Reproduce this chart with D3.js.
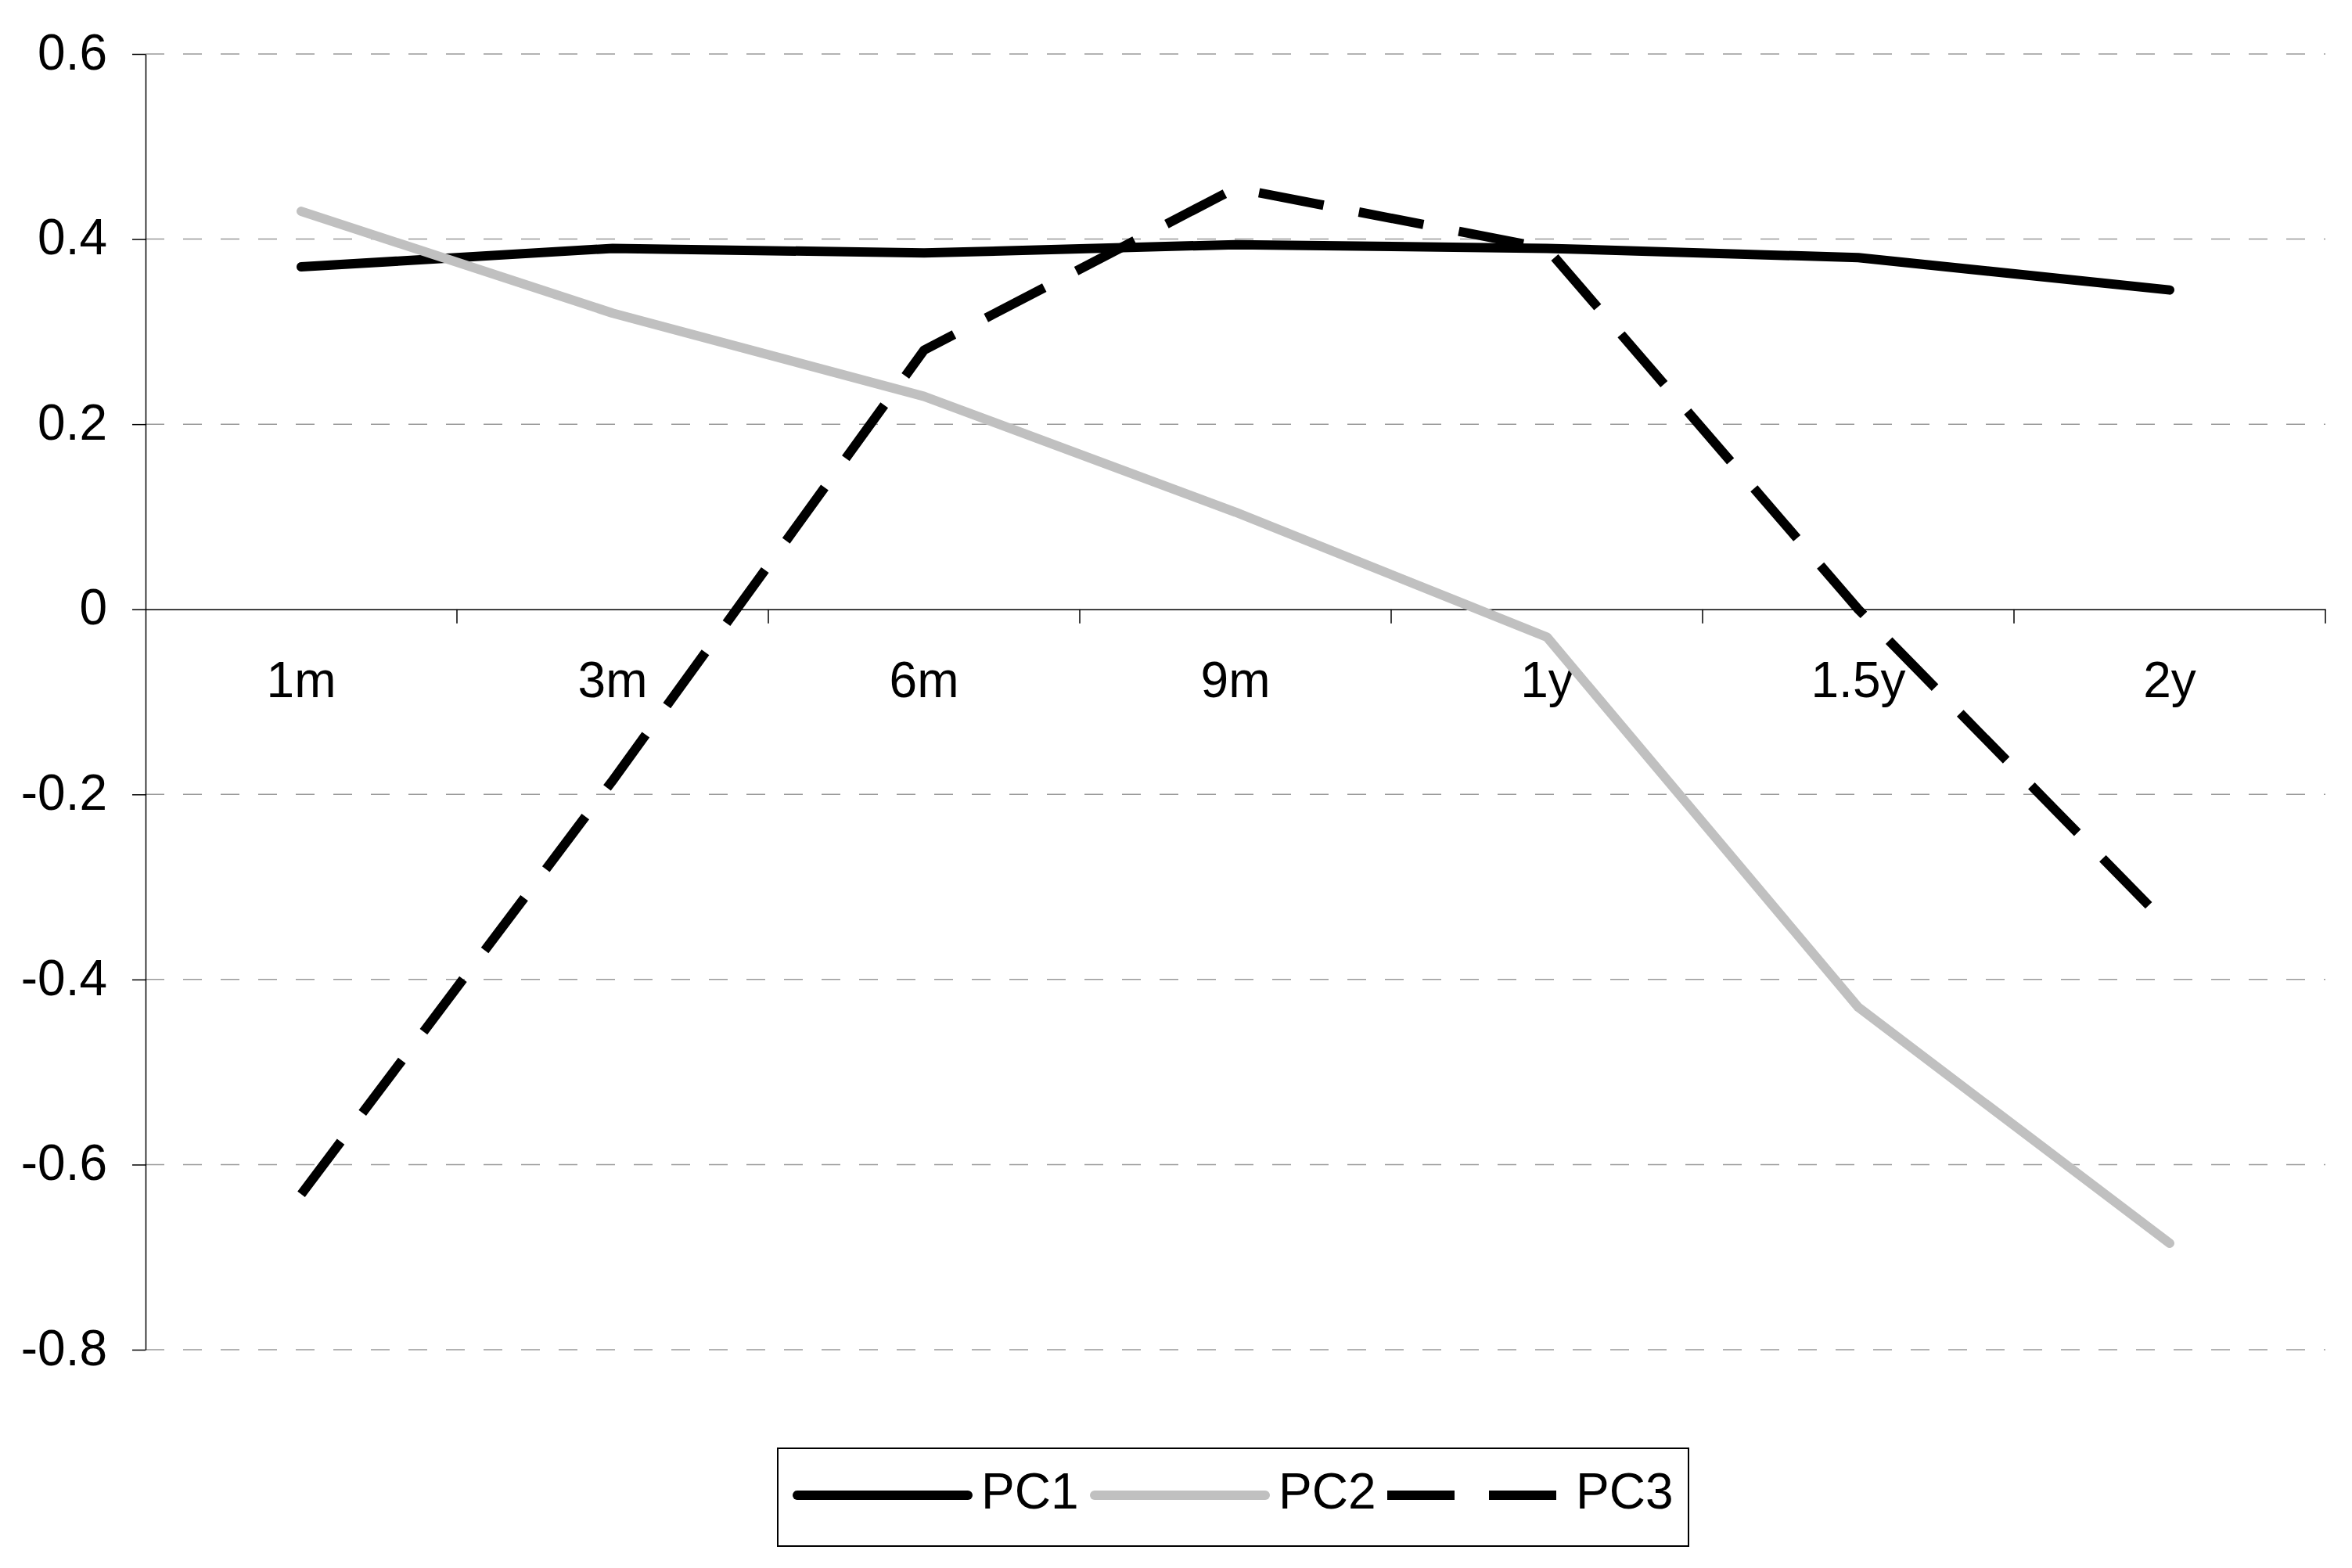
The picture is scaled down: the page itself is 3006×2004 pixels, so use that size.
<!DOCTYPE html>
<html>
<head>
<meta charset="utf-8">
<script src="https://cdn.jsdelivr.net/npm/d3@7"></script>
<style>
  body { margin: 0; background: #fff; }
  svg text { font-family: "Liberation Sans", Arial, sans-serif; fill: #000; }
</style>
</head>
<body>
<script>
// maturities on the x axis
const categories = ["1m", "3m", "6m", "9m", "1y", "1.5y", "2y"];

// loadings of the first three principal components
const pc1 = [0.37, 0.39, 0.385, 0.394, 0.39, 0.38, 0.345];
const pc2 = [0.43, 0.32, 0.23, 0.105, -0.03, -0.43, -0.685];
const pc3 = [-0.632, -0.185, 0.28, 0.455, 0.39, 0.0, -0.343];

const seriesNames = ["PC1", "PC2", "PC3"];
const yTicks = [0.6, 0.4, 0.2, 0, -0.2, -0.4, -0.6, -0.8];
const yTickLabels = ["0.6", "0.4", "0.2", "0", "-0.2", "-0.4", "-0.6", "-0.8"];

const W = 3006, H = 2004;
const plot = { left: 186, right: 2972, top: 69, bottom: 1725 };

const series = [
  { name: seriesNames[0], values: pc1, color: "#000", dash: null, cap: "round" },
  { name: seriesNames[1], values: pc2, color: "#c0c0c0", dash: null, cap: "round" },
  { name: seriesNames[2], values: pc3, color: "#000", dash: "84,46", cap: "butt" }
];

const svg = d3.select("body").append("svg")
  .attr("width", W)
  .attr("height", H);

svg.append("rect").attr("width", W).attr("height", H).attr("fill", "#fff");

const x = d3.scaleBand()
  .domain(categories)
  .range([plot.left, plot.right])
  .padding(0);

const y = d3.scaleLinear()
  .domain([-0.8, 0.6])
  .range([plot.bottom, plot.top]);

// dashed gridlines (zero is the category axis itself)
svg.append("g")
  .selectAll("line")
  .data(yTicks.filter(d => d !== 0))
  .join("line")
    .attr("x1", plot.left)
    .attr("x2", plot.right)
    .attr("y1", d => y(d))
    .attr("y2", d => y(d))
    .attr("stroke", "#999")
    .attr("stroke-width", 1.5)
    .attr("stroke-dasharray", "24,24");

// value axis
const yAxis = svg.append("g")
  .attr("transform", `translate(${plot.left},0)`)
  .call(d3.axisLeft(y)
    .tickValues(yTicks)
    .tickFormat((d, i) => yTickLabels[i])
    .tickSize(17)
    .tickSizeOuter(0)
    .tickPadding(32));

yAxis.attr("font-size", 64).attr("font-family", null);
yAxis.selectAll("path, line").attr("stroke", "#000").attr("stroke-width", 1.5);
yAxis.selectAll("text").attr("dy", "0.3em");

// category axis sits on zero
const xAxis = svg.append("g")
  .attr("transform", `translate(0,${y(0)})`)
  .call(d3.axisBottom(x)
    .tickSize(0)
    .tickSizeOuter(0)
    .tickPadding(67));

xAxis.attr("font-size", 64).attr("font-family", null);
xAxis.select(".domain").attr("stroke", "#000").attr("stroke-width", 1.5);

// tick marks between categories
xAxis.selectAll(".boundary")
  .data(categories)
  .join("line")
    .attr("class", "boundary")
    .attr("x1", d => x(d) + x.bandwidth())
    .attr("x2", d => x(d) + x.bandwidth())
    .attr("y1", 0)
    .attr("y2", 18)
    .attr("stroke", "#000")
    .attr("stroke-width", 1.5);

const line = d3.line()
  .x((d, i) => x(categories[i]) + x.bandwidth() / 2)
  .y(d => y(d));

svg.append("g")
  .selectAll("path")
  .data(series)
  .join("path")
    .attr("d", d => line(d.values))
    .attr("fill", "none")
    .attr("stroke", d => d.color)
    .attr("stroke-width", 12)
    .attr("stroke-linecap", d => d.cap)
    .attr("stroke-linejoin", "round")
    .attr("stroke-dasharray", d => d.dash);

// legend
const legend = svg.append("g");

legend.append("rect")
  .attr("x", 994)
  .attr("y", 1851)
  .attr("width", 1164)
  .attr("height", 125)
  .attr("fill", "#fff")
  .attr("stroke", "#000")
  .attr("stroke-width", 2);

const item = legend.selectAll("g")
  .data(series)
  .join("g")
    .attr("transform", (d, i) => `translate(${1019 + i * 380},1911)`);

item.append("line")
  .attr("x1", d => d.dash ? -6 : 0)
  .attr("x2", d => d.dash ? 214 : 218)
  .attr("stroke", d => d.color)
  .attr("stroke-width", 12)
  .attr("stroke-linecap", d => d.cap)
  .attr("stroke-dasharray", d => d.dash ? "86,44" : null);

item.append("text")
  .attr("x", 235)
  .attr("y", 17)
  .attr("font-size", 64)
  .text(d => d.name);
</script>
</body>
</html>
